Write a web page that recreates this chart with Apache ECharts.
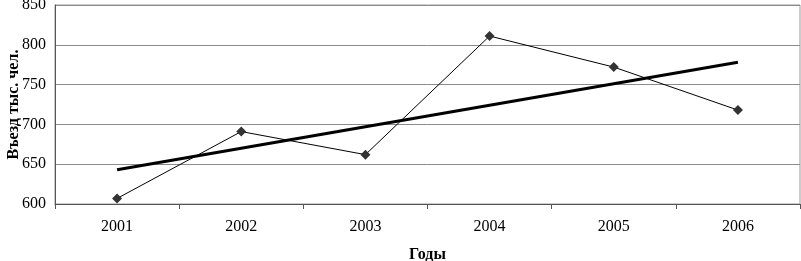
<!DOCTYPE html>
<html><head><meta charset="utf-8">
<script src="https://cdn.jsdelivr.net/npm/echarts@6/dist/echarts.min.js"></script>
<style>html,body{margin:0;padding:0;background:#fff}#c{width:801px;height:261px}</style>
</head><body><div id="c"></div>
<script>
var years = ['2001','2002','2003','2004','2005','2006'];
var entryValues = [607, 691, 662, 811, 772, 718];
var trendValues = [643, null, null, null, null, 778];
var yTicks = {min: 600, max: 850, interval: 50};
var xTitle = 'Годы';
var yTitle = 'Въезд тыс. чел.';

var chart = echarts.init(document.getElementById('c'), null, {renderer: 'canvas'});
var font = '"Liberation Serif", "Times New Roman", serif';
chart.setOption({
  animation: false,
  backgroundColor: '#fff',
  grid: {left: 55, right: 1, top: 5, bottom: 57, containLabel: false, outerBoundsMode: 'none',
         show: true, borderColor: '#999', borderWidth: 1},
  xAxis: {
    type: 'category', data: years, boundaryGap: true,
    name: xTitle, nameLocation: 'middle', nameGap: 43, nameMoveOverlap: false,
    nameTextStyle: {fontFamily: font, fontSize: 16, fontWeight: 'bold', color: '#000'},
    axisLine: {lineStyle: {color: '#555', width: 1}},
    axisTick: {show: true, length: 5, lineStyle: {color: '#555'}},
    axisLabel: {fontFamily: font, fontSize: 16, color: '#000', margin: 15},
    splitLine: {show: false}
  },
  yAxis: {
    type: 'value', min: yTicks.min, max: yTicks.max, interval: yTicks.interval,
    name: yTitle, nameLocation: 'middle', nameGap: 33, nameRotate: 90, nameMoveOverlap: false,
    nameTextStyle: {fontFamily: font, fontSize: 16, fontWeight: 'bold', color: '#000'},
    axisLine: {show: true, lineStyle: {color: '#555', width: 1}},
    axisTick: {show: false},
    axisLabel: {fontFamily: font, fontSize: 16, color: '#000', margin: 9},
    splitLine: {show: true, lineStyle: {color: '#8c8c8c', width: 1}}
  },
  series: [
    {
      type: 'line', data: entryValues,
      symbol: 'diamond', symbolSize: 10,
      itemStyle: {color: '#333'},
      lineStyle: {color: '#000', width: 1}
    },
    {
      type: 'line', data: trendValues, connectNulls: true,
      symbol: 'none',
      lineStyle: {color: '#000', width: 3}
    }
  ]
});
</script></body></html>
